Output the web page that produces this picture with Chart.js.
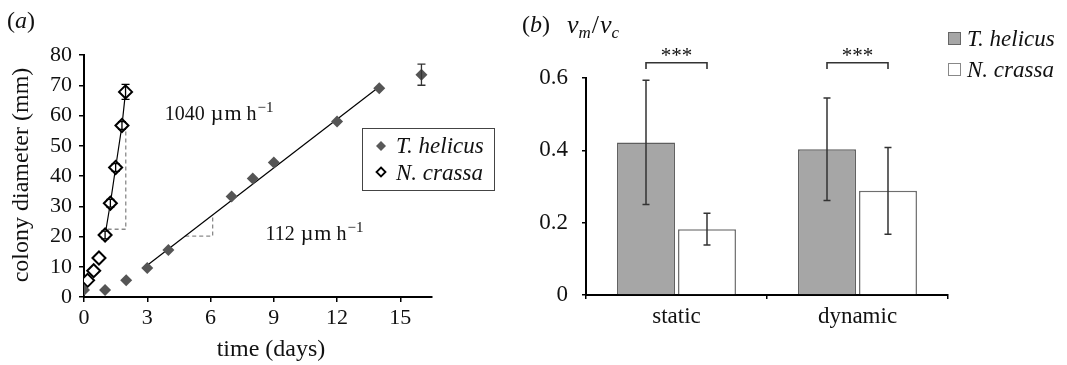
<!DOCTYPE html>
<html>
<head>
<meta charset="utf-8">
<script src="https://cdn.jsdelivr.net/npm/chart.js@4.4.1/dist/chart.umd.min.js"></script>
<style>
html, body { margin: 0; padding: 0; background: #fff; }
#wrapA { position: absolute; left: 0; top: 0; width: 500px; height: 365px; }
#wrapB { position: absolute; left: 500px; top: 0; width: 567px; height: 365px; }
</style>
</head>
<body>
<div id="wrapA"><canvas id="chartA"></canvas></div>
<div id="wrapB"><canvas id="chartB"></canvas></div>
<script>
// panel (a): colony diameter over time
var heliDays   = [0, 1, 2, 3, 4, 7, 8, 9, 12, 14, 16];
var heliDiam   = [2.3, 2.3, 5.5, 9.6, 15.5, 33.2, 39.2, 44.5, 58, 69, 73.5];
var heliErr    = [0, 0, 0, 0, 0, 0, 0, 0, 0, 0, 3.5];
var crassaDays = [0, 0.17, 0.46, 0.71, 1, 1.25, 1.5, 1.8, 1.97];
var crassaDiam = [5, 5.5, 8.7, 12.9, 20.5, 31, 42.8, 56.7, 67.8];
var crassaErr  = [0, 0, 0, 0, 1.3, 1.3, 1.3, 1.3, 2.5];
var heliFitDays = [3, 14];
var heliFitDiam = [10.5, 69.5];
var slopeHeliDays = [4.8, 6.1, 6.1];
var slopeHeliDiam = [20.1, 20.1, 27.3];
var slopeCrassaDays = [1.12, 1.98, 1.98];
var slopeCrassaDiam = [22.4, 22.4, 57.5];
var dayTicks  = [0, 3, 6, 9, 12, 15];
var diamTicks = [0, 10, 20, 30, 40, 50, 60, 70, 80];

// panel (b): v_m / v_c
var categories     = ['static', 'dynamic'];
var ratioHeli      = [0.422, 0.403];
var ratioHeliErr   = [0.172, 0.142];
var ratioCrassa    = [0.182, 0.288];
var ratioCrassaErr = [0.044, 0.12];
var ratioTicks     = [0, 0.2, 0.4, 0.6];

var SERIF = "'Liberation Serif', 'Times New Roman', serif";
Chart.defaults.font.family = SERIF;
Chart.defaults.color = '#111';
Chart.defaults.animation = false;

function pts(xs, ys) {
    return xs.map(function(x, i) { return {x: x, y: ys[i]}; });
}

function drawErrorBars(chart, dsIndex, errs, cap, color, width) {
    var meta = chart.getDatasetMeta(dsIndex);
    var ys = chart.scales.y;
    var ctx = chart.ctx;
    ctx.save();
    ctx.strokeStyle = color;
    ctx.lineWidth = width;
    meta.data.forEach(function(el, i) {
        var e = errs[i];
        if (!e) return;
        var raw = chart.data.datasets[dsIndex].data[i];
        var v = (typeof raw === 'object') ? raw.y : raw;
        var top = ys.getPixelForValue(v + e);
        var bot = ys.getPixelForValue(v - e);
        var x = el.x;
        ctx.beginPath();
        ctx.moveTo(x, top); ctx.lineTo(x, bot);
        ctx.moveTo(x - cap, top); ctx.lineTo(x + cap, top);
        ctx.moveTo(x - cap, bot); ctx.lineTo(x + cap, bot);
        ctx.stroke();
    });
    ctx.restore();
}

// draws runs of [text, font, dy, gapAfter] one after another
function drawRuns(ctx, x, y, runs) {
    runs.forEach(function(r) {
        ctx.font = r[1];
        ctx.fillText(r[0], x, y + (r[2] || 0));
        x += ctx.measureText(r[0]).width + (r[3] || 0);
    });
}

function rateLabel(ctx, x, y, num) {
    var up = '20px ' + SERIF, sup = '15px ' + SERIF;
    drawRuns(ctx, x, y, [[num, up, 0, 6], ['\u00b5', '22px ' + SERIF, 0, 1], ['m', '22px ' + SERIF, 0, 5],
        ['h', up, 0, 1], ['\u22121', sup, -8]]);
}

function diamond(ctx, x, y, r, fill, stroke, lw) {
    ctx.beginPath();
    ctx.moveTo(x, y - r); ctx.lineTo(x + r, y); ctx.lineTo(x, y + r); ctx.lineTo(x - r, y);
    ctx.closePath();
    ctx.fillStyle = fill; ctx.fill();
    if (stroke) { ctx.strokeStyle = stroke; ctx.lineWidth = lw; ctx.stroke(); }
}

var panelA = {
    id: 'panelA',
    afterDatasetsDraw: function(chart) {
        drawErrorBars(chart, 0, heliErr, 4, '#333', 1.3);
        drawErrorBars(chart, 1, crassaErr, 4, '#000', 1.3);
    },
    afterDraw: function(chart) {
        var ctx = chart.ctx;
        var xs = chart.scales.x, ys = chart.scales.y;
        ctx.save();
        ctx.fillStyle = '#111';
        ctx.textBaseline = 'alphabetic';
        ctx.textAlign = 'left';
        drawRuns(ctx, 7, 28, [['(', '24px ' + SERIF], ['a', 'italic 24px ' + SERIF], [')', '24px ' + SERIF]]);

        rateLabel(ctx, xs.getPixelForValue(3.83), ys.getPixelForValue(58.5), '1040');
        rateLabel(ctx, xs.getPixelForValue(8.6), ys.getPixelForValue(19), '112');

        // axis titles
        ctx.fillStyle = '#111';
        ctx.font = '24px ' + SERIF;
        ctx.textAlign = 'center';
        ctx.textBaseline = 'middle';
        ctx.fillText('time (days)', 271, 350);
        ctx.save();
        ctx.translate(22, 175);
        ctx.rotate(-Math.PI / 2);
        ctx.fillText('colony diameter (mm)', 0, 0);
        ctx.restore();

        // legend box
        ctx.strokeStyle = '#444';
        ctx.lineWidth = 1;
        ctx.strokeRect(362.5, 128.5, 132, 62);
        diamond(ctx, 381, 146, 5, '#595959');
        diamond(ctx, 381, 172, 4.5, '#fff', '#000', 1.8);
        ctx.fillStyle = '#111';
        ctx.textAlign = 'left';
        ctx.textBaseline = 'alphabetic';
        ctx.font = 'italic 23px ' + SERIF;
        ctx.fillText('T. helicus', 396, 153);
        ctx.fillText('N. crassa', 396, 180);
        ctx.restore();
    }
};

new Chart(document.getElementById('chartA'), {
    type: 'scatter',
    data: {
        datasets: [
            {
                label: 'T. helicus',
                data: pts(heliDays, heliDiam),
                pointStyle: 'rectRot',
                pointRadius: 6,
                backgroundColor: '#555',
                borderColor: '#555',
                borderWidth: 0
            },
            {
                label: 'N. crassa',
                data: pts(crassaDays, crassaDiam),
                pointStyle: 'rectRot',
                pointRadius: 6.5,
                backgroundColor: '#fff',
                borderColor: '#000',
                borderWidth: 2
            },
            {
                label: 'T. helicus fit',
                data: pts(heliFitDays, heliFitDiam),
                showLine: true,
                pointRadius: 0,
                borderColor: '#000',
                borderWidth: 1.2
            },
            {
                label: 'N. crassa fit',
                data: pts(crassaDays.slice(4), crassaDiam.slice(4)),
                showLine: true,
                pointRadius: 0,
                borderColor: '#000',
                borderWidth: 1.2
            },
            {
                label: 'slope T. helicus',
                data: pts(slopeHeliDays, slopeHeliDiam),
                showLine: true,
                pointRadius: 0,
                borderColor: '#8a8a8a',
                borderWidth: 1.3,
                borderDash: [4, 3]
            },
            {
                label: 'slope N. crassa',
                data: pts(slopeCrassaDays, slopeCrassaDiam),
                showLine: true,
                pointRadius: 0,
                borderColor: '#8a8a8a',
                borderWidth: 1.3,
                borderDash: [4, 3]
            }
        ]
    },
    options: {
        responsive: true,
        maintainAspectRatio: false,
        layout: { padding: { top: 55, right: 68, bottom: 0, left: 0 } },
        plugins: { legend: { display: false }, tooltip: { enabled: false } },
        scales: {
            x: {
                type: 'linear',
                min: 0,
                max: 16.5,
                afterBuildTicks: function(s) { s.ticks = dayTicks.map(function(v) { return {value: v}; }); },
                afterFit: function(s) { s.height = 68; },
                grid: { drawOnChartArea: false, drawTicks: true, tickLength: 5, color: '#000', lineWidth: 1.5 },
                border: { color: '#000', width: 2 },
                ticks: { font: { size: 22 }, padding: 3, maxRotation: 0, color: '#111' }
            },
            y: {
                min: 0,
                max: 80,
                afterBuildTicks: function(s) { s.ticks = diamTicks.map(function(v) { return {value: v}; }); },
                afterFit: function(s) { s.width = 84; },
                grid: { drawOnChartArea: false, drawTicks: true, tickLength: 5, color: '#000', lineWidth: 1.5 },
                border: { color: '#000', width: 2 },
                ticks: { font: { size: 22 }, padding: 7, color: '#111' }
            }
        }
    },
    plugins: [panelA]
});

var panelB = {
    id: 'panelB',
    afterDatasetsDraw: function(chart) {
        drawErrorBars(chart, 0, ratioHeliErr, 3.5, '#333', 1.5);
        drawErrorBars(chart, 1, ratioCrassaErr, 3.5, '#333', 1.5);
    },
    afterDraw: function(chart) {
        var ctx = chart.ctx;
        var ys = chart.scales.y;
        var m0 = chart.getDatasetMeta(0), m1 = chart.getDatasetMeta(1);
        ctx.save();
        ctx.fillStyle = '#111';
        ctx.textBaseline = 'alphabetic';
        ctx.textAlign = 'left';
        drawRuns(ctx, 22, 32, [['(', '24px ' + SERIF], ['b', 'italic 24px ' + SERIF], [')', '24px ' + SERIF]]);
        var it = 'italic 26px ' + SERIF, sub = 'italic 17px ' + SERIF;
        drawRuns(ctx, 67, 33, [['v', it], ['m', sub, 5, 1], ['/', '26px ' + SERIF, 0, 1], ['v', it], ['c', sub, 5]]);

        // significance brackets
        var yTop = ys.getPixelForValue(0.642), yEnd = ys.getPixelForValue(0.625);
        ctx.strokeStyle = '#333';
        ctx.lineWidth = 1.6;
        ctx.textAlign = 'center';
        ctx.font = '21px ' + SERIF;
        categories.forEach(function(c, i) {
            var a = m0.data[i].x, b = m1.data[i].x;
            ctx.beginPath();
            ctx.moveTo(a, yEnd); ctx.lineTo(a, yTop); ctx.lineTo(b, yTop); ctx.lineTo(b, yEnd);
            ctx.stroke();
            ctx.fillText('***', (a + b) / 2, ys.getPixelForValue(0.645));
        });

        // legend
        ctx.lineWidth = 1;
        ctx.fillStyle = '#a6a6a6'; ctx.strokeStyle = '#666';
        ctx.fillRect(448.5, 32.5, 12, 12); ctx.strokeRect(448.5, 32.5, 12, 12);
        ctx.fillStyle = '#fff'; ctx.strokeStyle = '#888';
        ctx.fillRect(448.5, 63.5, 12, 12); ctx.strokeRect(448.5, 63.5, 12, 12);
        ctx.fillStyle = '#111';
        ctx.textAlign = 'left';
        ctx.font = 'italic 23px ' + SERIF;
        ctx.fillText('T. helicus', 467, 46);
        ctx.fillText('N. crassa', 467, 77);
        ctx.restore();
    }
};

new Chart(document.getElementById('chartB'), {
    type: 'bar',
    data: {
        labels: categories,
        datasets: [
            {
                label: 'T. helicus',
                data: ratioHeli,
                backgroundColor: '#a6a6a6',
                borderColor: '#5e5e5e',
                borderWidth: 1.5,
                barPercentage: 0.95,
                categoryPercentage: 0.674
            },
            {
                label: 'N. crassa',
                data: ratioCrassa,
                backgroundColor: '#fff',
                borderColor: '#6e6e6e',
                borderWidth: 1.5,
                barPercentage: 0.95,
                categoryPercentage: 0.674
            }
        ]
    },
    options: {
        responsive: true,
        maintainAspectRatio: false,
        layout: { padding: { top: 78, right: 119, bottom: 0, left: 0 } },
        plugins: { legend: { display: false }, tooltip: { enabled: false } },
        scales: {
            x: {
                afterFit: function(s) { s.height = 70; },
                grid: { offset: true, drawOnChartArea: false, drawTicks: true, tickLength: 4, color: '#000', lineWidth: 1.5 },
                border: { color: '#000', width: 2 },
                ticks: { font: { size: 23 }, padding: 4, color: '#111' }
            },
            y: {
                min: 0,
                max: 0.6,
                afterBuildTicks: function(s) { s.ticks = ratioTicks.map(function(v) { return {value: v}; }); },
                afterFit: function(s) { s.width = 86; },
                grid: { drawOnChartArea: false, drawTicks: true, tickLength: 4, color: '#000', lineWidth: 1.5 },
                border: { color: '#000', width: 2 },
                ticks: { font: { size: 23 }, padding: 14, color: '#111' }
            }
        }
    },
    plugins: [panelB]
});
</script>
</body>
</html>
